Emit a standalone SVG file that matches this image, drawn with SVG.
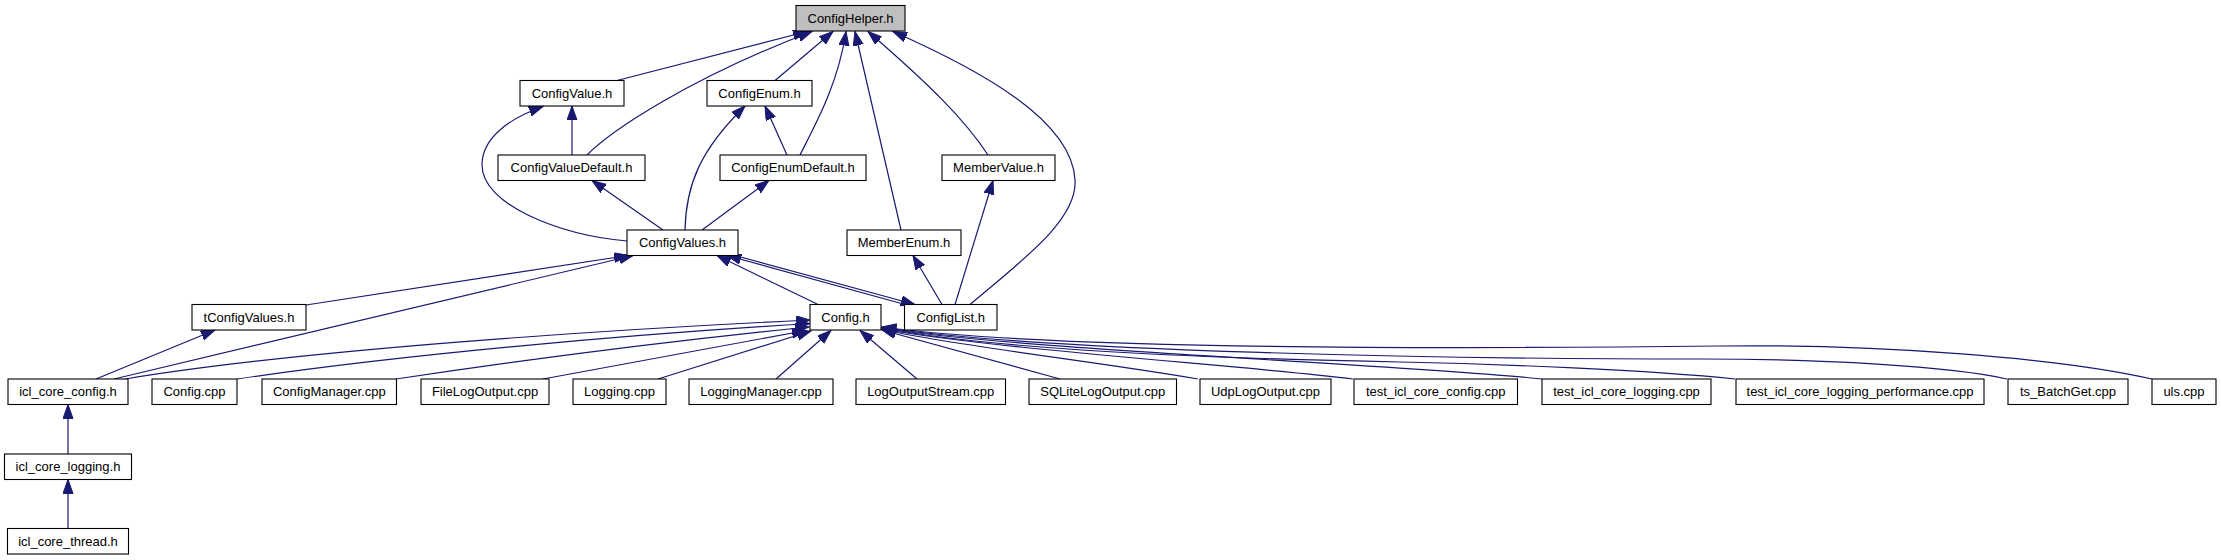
<svg xmlns="http://www.w3.org/2000/svg" width="2221" height="560" viewBox="0 0 2221 560">
<style>
.n rect{fill:#fff;stroke:#000;stroke-width:1.1}
.n text{font-family:"Liberation Sans",Arial,sans-serif;font-size:13px;fill:#000;text-anchor:middle}
#edges path{fill:none;stroke:#191970;stroke-width:1.2;marker-end:url(#a)}
</style>
<defs>
<marker id="a" markerUnits="userSpaceOnUse" markerWidth="16" markerHeight="12" refX="14" refY="5" orient="auto">
<path d="M0,0 L14,5 L0,10 z" fill="#191970" stroke="#191970" stroke-width="1"/>
</marker>
</defs>
<rect width="2221" height="560" fill="#fff"/>
<g id="edges">
<path d="M617,80.5 L807,31.5"/>
<path d="M587,155 C612,130 690,78 812,31.5"/>
<path d="M775,80.5 L833,31.5"/>
<path d="M800,155 C815,125 838,85 846,31.5"/>
<path d="M901,230 L855,31.5"/>
<path d="M988,155 C965,120 930,85 868,31.5"/>
<path d="M970,304.5 C1020,262 1078,220 1075,180 C1072,120 980,70 893,31.5"/>
<path d="M572,155 L572,106"/>
<path d="M627,241 C560,235 482,205 482,165 C482,140 505,120 543,106.5"/>
<path d="M787,155 L765,106"/>
<path d="M685,230 C686,185 700,150 745,106"/>
<path d="M663,230 L592,180.5"/>
<path d="M702,230 L769,180.5"/>
<path d="M955,304.5 L993,180.5"/>
<path d="M942,304.5 L913,255.5"/>
<path d="M306,305 L628,255.5"/>
<path d="M114,379 L633,255.5"/>
<path d="M818,304.5 L717,255.5"/>
<path d="M905,304.5 L727,255.5"/>
<path d="M735,255.5 L915,304.5"/>
<path d="M96,379 L215,330"/>
<path d="M68,454 L68,404.5"/>
<path d="M68,528.5 L68,479.5"/>
<path d="M125,379 C300,350 600,330 810,320"/>
<path d="M237,379 C400,355 620,335 810,323.5"/>
<path d="M396,379 C550,356 700,338 809,327"/>
<path d="M543,379 C650,360 730,345 806,330.5"/>
<path d="M658,379 L811,331"/>
<path d="M776,379 L831,330.5"/>
<path d="M917,379 L860,330.5"/>
<path d="M1060,379 L882,330"/>
<path d="M1198,379 C1100,362 950,345 882,329.5"/>
<path d="M1353,379 C1250,366 1000,350 882,329"/>
<path d="M1542,379 C1400,364 1050,352 882,328.5"/>
<path d="M1735,379 C1650,370 1500,364 1400,362 C1200,358 1000,350 882,328"/>
<path d="M2007,379 C1950,366 1820,359 1700,359 C1450,359 1050,352 882,327.5"/>
<path d="M2152,379 C2060,358 1880,344 1720,346 C1450,349 1050,350 882,327"/>
</g>
<g id="n_ConfigHelper" class="n"><rect x="796" y="5.5" width="109" height="25.5" style="fill:#bfbfbf"/><text x="850.5" y="22.75">ConfigHelper.h</text></g>
<g id="n_ConfigValue" class="n"><rect x="520" y="80.5" width="104" height="25.5"/><text x="572" y="97.75">ConfigValue.h</text></g>
<g id="n_ConfigEnum" class="n"><rect x="707" y="80.5" width="105" height="25.5"/><text x="759.5" y="97.75">ConfigEnum.h</text></g>
<g id="n_ConfigValueDefault" class="n"><rect x="498" y="155" width="147" height="25.5"/><text x="571.5" y="172.25">ConfigValueDefault.h</text></g>
<g id="n_ConfigEnumDefault" class="n"><rect x="720" y="155" width="146" height="25.5"/><text x="793" y="172.25">ConfigEnumDefault.h</text></g>
<g id="n_MemberValue" class="n"><rect x="942" y="155" width="113" height="25.5"/><text x="998.5" y="172.25">MemberValue.h</text></g>
<g id="n_ConfigValues" class="n"><rect x="627" y="230" width="111" height="25.5"/><text x="682.5" y="247.25">ConfigValues.h</text></g>
<g id="n_MemberEnum" class="n"><rect x="847" y="230" width="114" height="25.5"/><text x="904" y="247.25">MemberEnum.h</text></g>
<g id="n_tConfigValues" class="n"><rect x="192" y="304.5" width="114" height="25.5"/><text x="249" y="321.75">tConfigValues.h</text></g>
<g id="n_Config" class="n"><rect x="810" y="304.5" width="71" height="25.5"/><text x="845.5" y="321.75">Config.h</text></g>
<g id="n_ConfigList" class="n"><rect x="904.5" y="304.5" width="92.5" height="25.5"/><text x="950.75" y="321.75">ConfigList.h</text></g>
<g id="n_icl_core_config" class="n"><rect x="8" y="379" width="120" height="25.5"/><text x="68" y="396.25">icl_core_config.h</text></g>
<g id="n_Config_cpp" class="n"><rect x="152" y="379" width="85" height="25.5"/><text x="194.5" y="396.25">Config.cpp</text></g>
<g id="n_ConfigManager" class="n"><rect x="262" y="379" width="134.5" height="25.5"/><text x="329.25" y="396.25">ConfigManager.cpp</text></g>
<g id="n_FileLogOutput" class="n"><rect x="421" y="379" width="128" height="25.5"/><text x="485" y="396.25">FileLogOutput.cpp</text></g>
<g id="n_Logging" class="n"><rect x="573" y="379" width="93" height="25.5"/><text x="619.5" y="396.25">Logging.cpp</text></g>
<g id="n_LoggingManager" class="n"><rect x="689" y="379" width="144" height="25.5"/><text x="761" y="396.25">LoggingManager.cpp</text></g>
<g id="n_LogOutputStream" class="n"><rect x="856" y="379" width="149.5" height="25.5"/><text x="930.75" y="396.25">LogOutputStream.cpp</text></g>
<g id="n_SQLiteLogOutput" class="n"><rect x="1029" y="379" width="147.5" height="25.5"/><text x="1102.75" y="396.25">SQLiteLogOutput.cpp</text></g>
<g id="n_UdpLogOutput" class="n"><rect x="1200" y="379" width="131" height="25.5"/><text x="1265.5" y="396.25">UdpLogOutput.cpp</text></g>
<g id="n_test_icl_core_config" class="n"><rect x="1354" y="379" width="163.5" height="25.5"/><text x="1435.75" y="396.25">test_icl_core_config.cpp</text></g>
<g id="n_test_icl_core_logging" class="n"><rect x="1542" y="379" width="169" height="25.5"/><text x="1626.5" y="396.25">test_icl_core_logging.cpp</text></g>
<g id="n_test_perf" class="n"><rect x="1736" y="379" width="248" height="25.5"/><text x="1860" y="396.25">test_icl_core_logging_performance.cpp</text></g>
<g id="n_ts_BatchGet" class="n"><rect x="2008" y="379" width="120" height="25.5"/><text x="2068" y="396.25">ts_BatchGet.cpp</text></g>
<g id="n_uls" class="n"><rect x="2152" y="379" width="64" height="25.5"/><text x="2184" y="396.25">uls.cpp</text></g>
<g id="n_icl_core_logging" class="n"><rect x="4.5" y="454" width="127" height="25.5"/><text x="68" y="471.25">icl_core_logging.h</text></g>
<g id="n_icl_core_thread" class="n"><rect x="7.5" y="528.5" width="121" height="25.5"/><text x="68" y="545.75">icl_core_thread.h</text></g>
</svg>
